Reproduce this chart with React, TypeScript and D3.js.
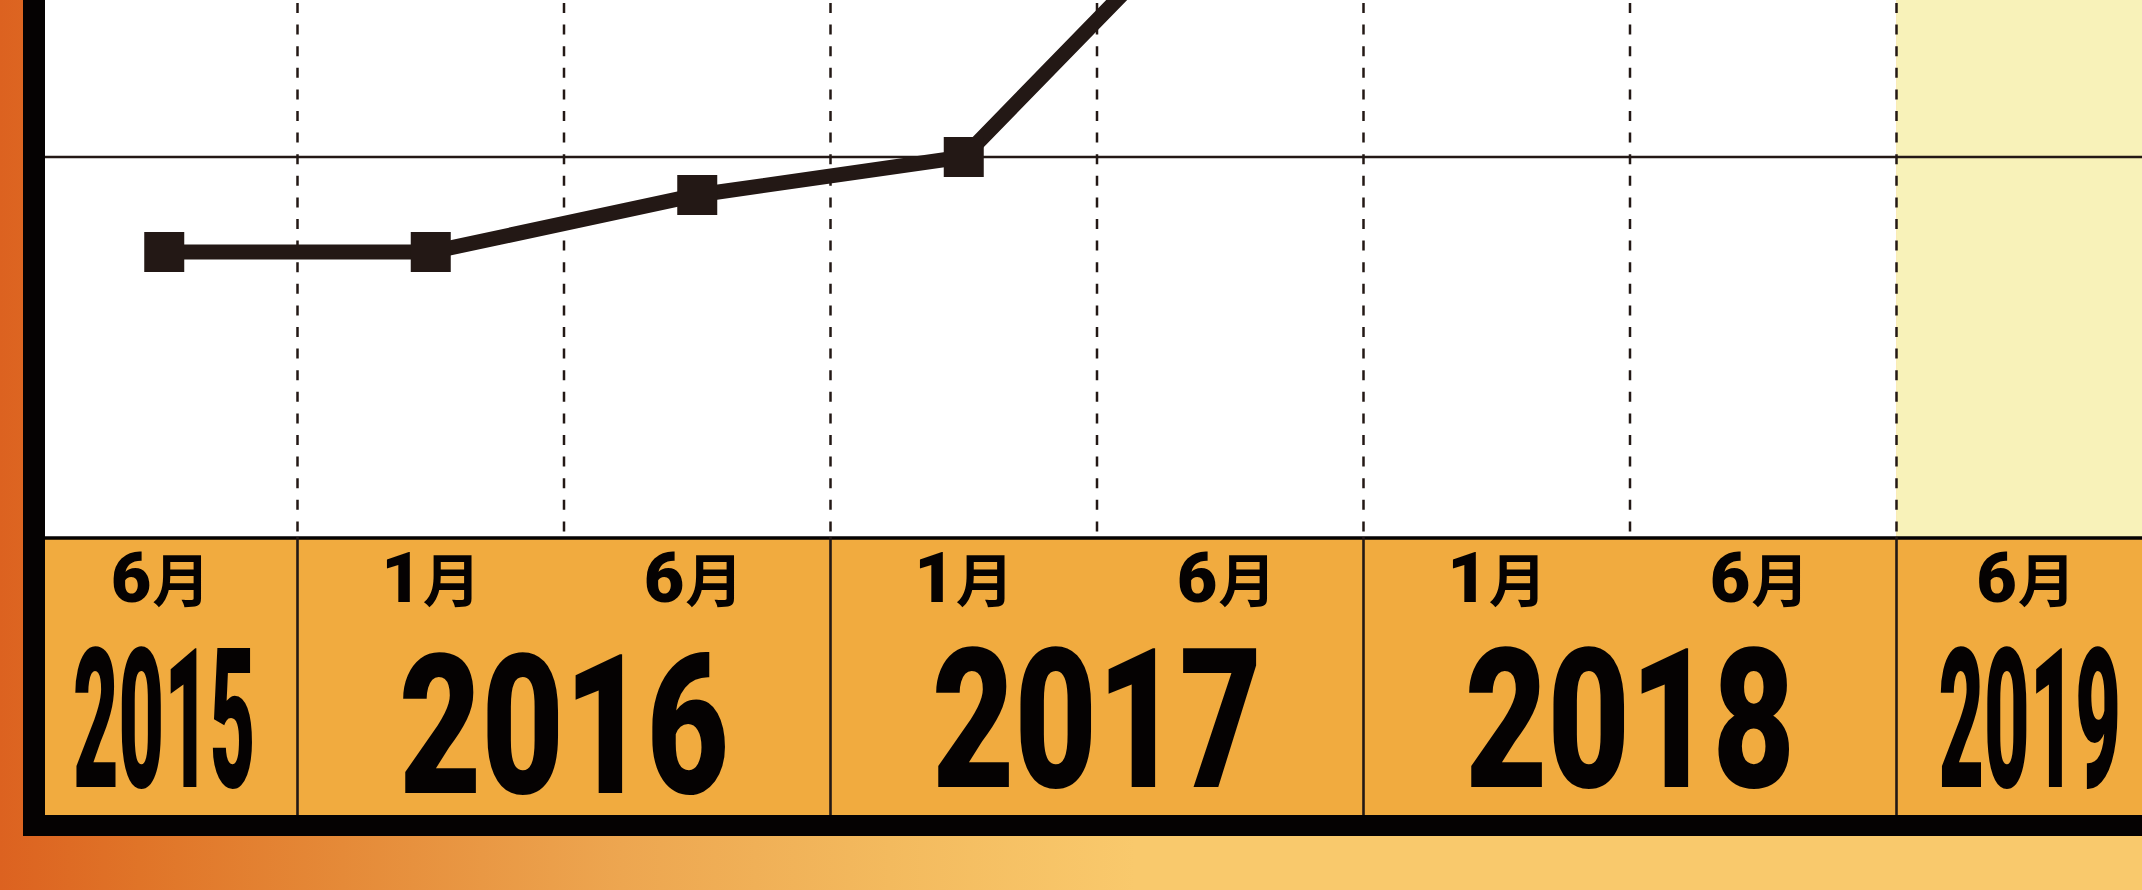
import React, { useLayoutEffect, useRef, useState } from "react";
import * as d3 from "d3";

// ---- data ----
const categories = ["2015-06", "2016-01", "2016-06", "2017-01", "2017-06", "2018-01", "2018-06", "2019-06"];
const monthNumbers = ["6", "1", "6", "1", "6", "1", "6", "6"];
const monthSuffix = "月";
const years = ["2015", "2016", "2017", "2018", "2019"];
const categoryYear = ["2015", "2016", "2016", "2017", "2017", "2018", "2018", "2019"];
const seriesCategories = ["2015-06", "2016-01", "2016-06", "2017-01", "2017-06"];
const seriesValues = [75, 75, 90, 100, 172];
const gridTicks = [100, 200];
const forecastStart = "2019-06";

const W = 2142;
const H = 890;
const INK = "#231815";
const FRAME = "#050202";
const DIGIT_FONT = 'Roboto, "Noto Sans", sans-serif';
const CJK_FONT = '"Noto Sans CJK JP", "Noto Sans CJK SC", sans-serif';

function FitText(props: { x: number; y: number; width: number; fontSize: number; text: string }) {
  const ref = useRef<SVGTextElement>(null);
  const [s, setS] = useState(1);
  useLayoutEffect(() => {
    if (ref.current) {
      const len = ref.current.getComputedTextLength() - 0.07 * props.fontSize;
      if (len > 0) setS(props.width / len);
    }
  }, [props.width, props.fontSize, props.text]);
  return (
    <text
      ref={ref}
      transform={`translate(${props.x},${props.y}) scale(${s},1)`}
      textAnchor="middle"
      style={{ fontFamily: DIGIT_FONT, fontWeight: 900 }}
      fontSize={props.fontSize}
      fill={FRAME}
    >
      {props.text}
    </text>
  );
}

export default function App() {
  const plotLeft = 45;
  const plotTop = 0;
  const bandTop = 537;
  const bandBottom = 815;
  const frameBottom = 836;
  const step = 266.5;
  const x0 = 31;

  const x = d3.scaleBand<string>().domain(categories).range([x0, x0 + step * categories.length]).padding(0);
  const y = d3.scaleLinear().domain([0, 100]).range([bandTop, 157]);
  const cx = (c: string) => (x(c) as number) + x.bandwidth() / 2;

  const pts: [number, number][] = seriesCategories.map((c, i) => [cx(c), y(seriesValues[i])]);
  const line = d3.line<[number, number]>().x((d) => d[0]).y((d) => d[1])(pts) || "";

  const boundaries = categories.slice(1).map((c) => x(c) as number);
  const yearBoundaries = categories
    .slice(1)
    .filter((c, i) => categoryYear[i + 1] !== categoryYear[i])
    .map((c) => x(c) as number);

  const yearInfo = years.map((yr) => {
    const cs = categories.filter((_, i) => categoryYear[i] === yr);
    const centers = cs.map(cx);
    return { yr, center: d3.mean(centers) as number, n: cs.length };
  });

  const forecastX = x(forecastStart) as number;

  return (
    <svg width={W} height={H} style={{ position: "absolute", left: 0, top: 0 }} xmlns="http://www.w3.org/2000/svg">
      <defs>
        <linearGradient id="bg" x1="0" x2="1" y1="0" y2="0">
          <stop offset="0" stopColor="#DC6220" />
          <stop offset="0.065" stopColor="#E07428" />
          <stop offset="0.16" stopColor="#E58A38" />
          <stop offset="0.29" stopColor="#EDA650" />
          <stop offset="0.415" stopColor="#F3BA5E" />
          <stop offset="0.53" stopColor="#F9C96C" />
          <stop offset="1" stopColor="#F9C96C" />
        </linearGradient>
        <clipPath id="plotClip">
          <rect x={plotLeft} y={plotTop} width={W - plotLeft} height={bandTop - plotTop} />
        </clipPath>
      </defs>

      <rect x={0} y={0} width={W} height={H} fill="url(#bg)" />

      {/* plot area */}
      <rect x={plotLeft} y={plotTop} width={forecastX - plotLeft} height={bandTop - plotTop} fill="#FFFFFF" />
      <rect x={forecastX} y={plotTop} width={W - forecastX} height={bandTop - plotTop} fill="#F8F2B9" />

      <g clipPath="url(#plotClip)">
        {boundaries.map((bx, i) => (
          <line key={"d" + i} x1={bx} x2={bx} y1={3} y2={bandTop} stroke={INK} strokeWidth={2.5} strokeDasharray="10 11.6" />
        ))}
        {gridTicks.map((t) => (
          <line key={"g" + t} x1={plotLeft} x2={W} y1={y(t)} y2={y(t)} stroke={INK} strokeWidth={2.6} />
        ))}
        <path d={line} fill="none" stroke={INK} strokeWidth={15} strokeLinejoin="miter" />
        {pts.map((p, i) => (
          <rect key={"m" + i} x={p[0] - 20} y={p[1] - 20} width={40} height={40} fill={INK} />
        ))}
      </g>

      {/* axis band */}
      <rect x={plotLeft} y={bandTop} width={W - plotLeft} height={bandBottom - bandTop} fill="#F1AB3F" />
      <line x1={plotLeft} x2={W} y1={bandTop + 1} y2={bandTop + 1} stroke={FRAME} strokeWidth={3.5} />
      {yearBoundaries.map((bx, i) => (
        <line key={"s" + i} x1={bx} x2={bx} y1={bandTop} y2={bandBottom} stroke={INK} strokeWidth={2.6} />
      ))}

      {categories.map((c, i) => {
        const c0 = cx(c);
        const isOne = monthNumbers[i] === "1";
        return (
          <g key={"mo" + c}>
            <text
              x={isOne ? c0 - 9 : c0 - 13}
              y={602}
              textAnchor="end"
              style={{ fontFamily: DIGIT_FONT, fontWeight: 900 }}
              fontSize={70}
              fill={FRAME}
            >
              {monthNumbers[i]}
            </text>
            <text
              x={isOne ? c0 - 8 : c0 - 12}
              y={602}
              style={{ fontFamily: CJK_FONT, fontWeight: 700 }}
              fontSize={58}
              fill={FRAME}
            >
              {monthSuffix}
            </text>
          </g>
        );
      })}

      {yearInfo.map((d) => (
        <FitText
          key={"y" + d.yr}
          x={d.center}
          y={d.yr === "2016" ? 793 : 787}
          width={d.n === 1 ? 177 : 320}
          fontSize={195}
          text={d.yr}
        />
      ))}

      {/* frame */}
      <rect x={23} y={0} width={plotLeft - 23} height={frameBottom} fill={FRAME} />
      <rect x={23} y={bandBottom} width={W - 23} height={frameBottom - bandBottom} fill={FRAME} />
    </svg>
  );
}
